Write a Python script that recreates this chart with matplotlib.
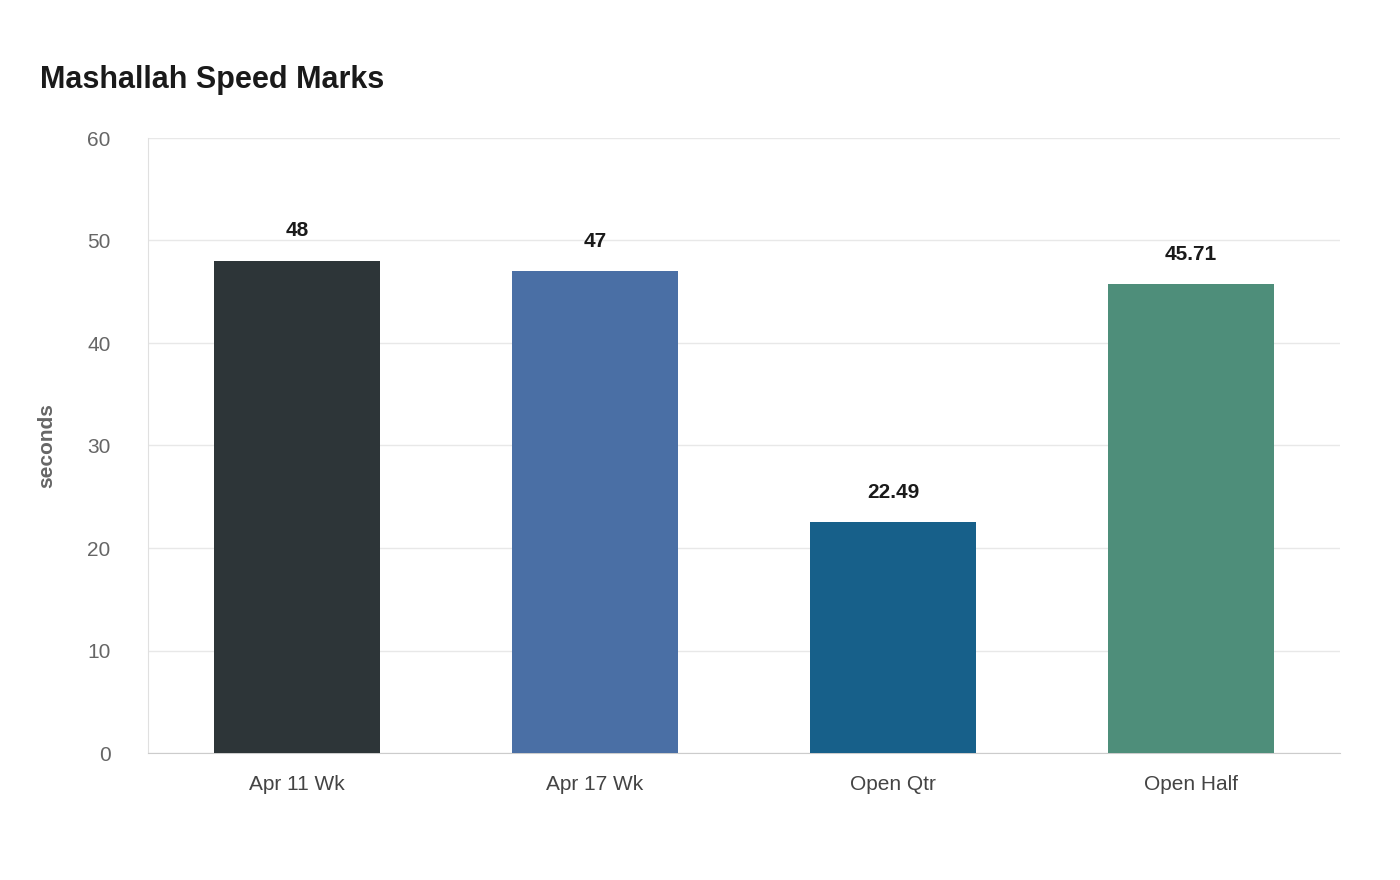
import matplotlib
matplotlib.use("Agg")
import matplotlib.pyplot as plt

plt.rcParams["font.family"] = ["Liberation Sans", "DejaVu Sans"]

categories = ["Apr 11 Wk", "Apr 17 Wk", "Open Qtr", "Open Half"]
values = [48, 47, 22.49, 45.71]
value_labels = ["48", "47", "22.49", "45.71"]
colors = ["#2d3538", "#4a6fa5", "#17608a", "#4e8e7a"]
yticks = [0, 10, 20, 30, 40, 50, 60]

fig = plt.figure(figsize=(14, 8.8), dpi=100)
ax = fig.add_axes([148 / 1400, 1 - 753 / 880, 1192 / 1400, 615 / 880])

x = range(len(categories))
ax.bar(x, values, width=0.557, color=colors, zorder=3)

for i, (v, lab) in enumerate(zip(values, value_labels)):
    ax.text(i, v + 2.0, lab, ha="center", va="bottom", fontsize=15,
            fontweight="bold", color="#1a1a1a")

ax.set_xlim(-0.5, 3.5)
ax.set_ylim(0, 60)
ax.set_yticks(yticks)
ax.set_xticks(list(x))
ax.set_xticklabels(categories, fontsize=15, color="#444444")
ax.tick_params(axis="y", labelsize=15, labelcolor="#666666", length=0, pad=27)
ax.tick_params(axis="x", length=0, pad=16)
ax.grid(axis="y", color="#e8e8e8", linewidth=1, zorder=0)

for side in ["top", "right"]:
    ax.spines[side].set_visible(False)
ax.spines["left"].set_color("#e0e0e0")
ax.spines["bottom"].set_color("#cccccc")

ax.set_ylabel("seconds", fontsize=15, fontweight="bold", color="#666666", labelpad=22)

fig.text(40 / 1400, 1 - 80 / 880, "Mashallah Speed Marks", fontsize=22,
         fontweight="bold", color="#1a1a1a", va="center", ha="left")

fig.savefig("out.png", dpi=100)
